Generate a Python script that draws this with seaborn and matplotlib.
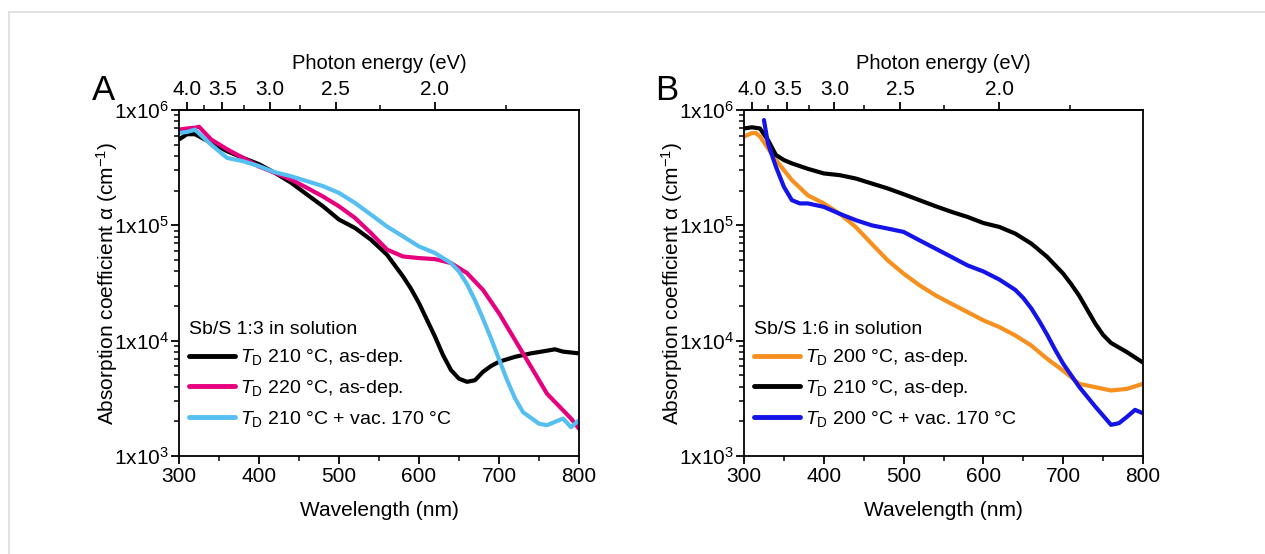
import numpy as np
import pandas as pd
import matplotlib
matplotlib.use("Agg")
import matplotlib.pyplot as plt
import matplotlib.ticker as mticker
from matplotlib.patches import Rectangle
import seaborn as sns

# ---------------- data ----------------
# Panel A : Sb/S 1:3 in solution   (log10 of alpha)
wl_a_black = [300, 310, 320, 340, 360, 380, 400, 420, 440, 460, 480, 500, 520, 540, 560, 580,
              590, 600, 610, 620, 630, 640, 650, 660, 670, 680, 690, 700, 720, 740, 760, 770,
              780, 800]
lg_a_black = [5.745, 5.79, 5.79, 5.716, 5.643, 5.585, 5.53, 5.455, 5.37, 5.267, 5.165, 5.05,
              4.977, 4.875, 4.745, 4.557, 4.45, 4.325, 4.18, 4.035, 3.875, 3.745, 3.67, 3.643,
              3.657, 3.73, 3.78, 3.817, 3.86, 3.89, 3.913, 3.925, 3.905, 3.89]

wl_a_pink = [300, 310, 320, 325, 340, 360, 380, 400, 420, 440, 460, 480, 500, 520, 540, 560,
             580, 600, 620, 640, 660, 680, 700, 720, 740, 760, 780, 790, 800]
lg_a_pink = [5.83, 5.84, 5.846, 5.855, 5.745, 5.66, 5.585, 5.51, 5.455, 5.397, 5.325, 5.25,
             5.165, 5.064, 4.933, 4.79, 4.73, 4.716, 4.707, 4.673, 4.586, 4.44, 4.238, 4.006,
             3.774, 3.54, 3.397, 3.325, 3.237]

wl_a_cyan = [300, 310, 320, 340, 360, 380, 400, 420, 440, 460, 480, 500, 520, 540, 560, 580,
             600, 620, 640, 650, 660, 670, 680, 690, 700, 710, 720, 730, 740, 750, 760, 780,
             790, 800]
lg_a_cyan = [5.80, 5.81, 5.83, 5.70, 5.585, 5.556, 5.513, 5.46, 5.426, 5.383, 5.34, 5.281,
             5.194, 5.093, 4.99, 4.904, 4.817, 4.76, 4.673, 4.60, 4.49, 4.35, 4.19, 4.02,
             3.84, 3.66, 3.50, 3.38, 3.33, 3.28, 3.267, 3.325, 3.25, 3.31]

# Panel B : Sb/S 1:6 in solution
wl_b_orange = [300, 310, 315, 320, 340, 360, 380, 400, 420, 440, 460, 480, 500, 520, 540, 560,
               580, 600, 620, 640, 660, 680, 700, 720, 740, 760, 780, 800]
lg_b_orange = [5.77, 5.80, 5.80, 5.77, 5.566, 5.392, 5.26, 5.19, 5.10, 4.986, 4.84, 4.697,
               4.581, 4.48, 4.393, 4.32, 4.248, 4.176, 4.118, 4.045, 3.958, 3.842, 3.74,
               3.626, 3.597, 3.568, 3.582, 3.626]

wl_b_black = [300, 310, 320, 330, 340, 350, 360, 380, 400, 420, 440, 460, 480, 500, 520, 540,
              560, 580, 600, 620, 640, 660, 680, 700, 710, 720, 730, 740, 750, 760, 780, 800]
lg_b_black = [5.84, 5.85, 5.84, 5.74, 5.61, 5.566, 5.537, 5.49, 5.45, 5.435, 5.406, 5.363,
              5.32, 5.27, 5.218, 5.166, 5.117, 5.073, 5.02, 4.986, 4.928, 4.842, 4.726, 4.581,
              4.49, 4.39, 4.27, 4.15, 4.05, 3.98, 3.90, 3.81]

wl_b_blue = [325, 330, 340, 350, 360, 370, 380, 400, 420, 440, 460, 480, 500, 520, 540, 560,
             580, 600, 620, 640, 650, 660, 670, 680, 690, 700, 710, 720, 740, 760, 770, 780,
             790, 800]
lg_b_blue = [5.913, 5.71, 5.508, 5.334, 5.218, 5.19, 5.19, 5.16, 5.10, 5.045, 5.00, 4.972,
             4.943, 4.87, 4.798, 4.726, 4.653, 4.60, 4.53, 4.44, 4.37, 4.28, 4.17, 4.05,
             3.92, 3.80, 3.70, 3.60, 3.43, 3.27, 3.285, 3.34, 3.40, 3.37]

labels_a = [r"$\mathit{T}_{\mathrm{D}}$ 210 °C, as-dep.",
            r"$\mathit{T}_{\mathrm{D}}$ 220 °C, as-dep.",
            r"$\mathit{T}_{\mathrm{D}}$ 210 °C + vac. 170 °C"]
labels_b = [r"$\mathit{T}_{\mathrm{D}}$ 200 °C, as-dep.",
            r"$\mathit{T}_{\mathrm{D}}$ 210 °C, as-dep.",
            r"$\mathit{T}_{\mathrm{D}}$ 200 °C + vac. 170 °C"]
title_a = "Sb/S 1:3 in solution"
title_b = "Sb/S 1:6 in solution"
energy_ticks = [4.0, 3.5, 3.0, 2.5, 2.0]
energy_minor = [3.75, 3.25, 2.75, 2.25, 1.75]
wl_ticks = [300, 400, 500, 600, 700, 800]

# ---------------- style ----------------
sns.set_style("ticks")
plt.rcParams["font.family"] = ["Liberation Sans", "DejaVu Sans"]
plt.rcParams["mathtext.fontset"] = "custom"
plt.rcParams["mathtext.rm"] = "Liberation Sans"
plt.rcParams["mathtext.it"] = "Liberation Sans:italic"
plt.rcParams["mathtext.bf"] = "Liberation Sans:bold"
for k in ["text.color", "axes.labelcolor", "xtick.color", "ytick.color", "axes.edgecolor"]:
    plt.rcParams[k] = "black"
plt.rcParams["axes.linewidth"] = 1.3

FS = 15
LFS = 14
LW = 3.0

fig = plt.figure(figsize=(12.65, 5.54), dpi=100)
fig.patches.append(Rectangle((9 / 1265, -0.1), 1.2, 0.1 + 1 - 12 / 554,
                             transform=fig.transFigure, fill=False,
                             edgecolor="#dcdcdc", linewidth=1.2, zorder=-5))

ax_a = fig.add_axes([179 / 1265, 1 - 456 / 554, 400 / 1265, 346 / 554])
ax_b = fig.add_axes([744 / 1265, 1 - 456 / 554, 399 / 1265, 346 / 554])


def to_e(x):
    x = np.asarray(x, dtype=float)
    with np.errstate(divide="ignore"):
        return np.where(x != 0, 1240.0 / np.where(x != 0, x, 1), np.inf)


def draw(ax, series, labels, title, letter, letter_x):
    for (wl, lg, col), lab in zip(series, labels):
        df = pd.DataFrame({"wl": wl, "alpha": 10 ** np.asarray(lg)})
        sns.lineplot(data=df, x="wl", y="alpha", ax=ax, color=col, lw=LW,
                     label=lab, sort=True, estimator=None)
    ax.set_yscale("log")
    ax.set_xlim(300, 800)
    ax.set_ylim(1e3, 1e6)
    ax.set_xticks(wl_ticks)
    ax.xaxis.set_minor_locator(mticker.FixedLocator([350, 450, 550, 650, 750]))
    ax.yaxis.set_major_locator(mticker.FixedLocator([1e3, 1e4, 1e5, 1e6]))
    ax.yaxis.set_major_formatter(mticker.FuncFormatter(
        lambda v, p: r"1x10$^{%d}$" % int(round(np.log10(v)))))
    ax.yaxis.set_minor_locator(mticker.LogLocator(base=10, subs=np.arange(2, 10), numticks=20))
    ax.yaxis.set_minor_formatter(mticker.NullFormatter())
    ax.tick_params(which="major", direction="out", length=6, width=1.3,
                   labelsize=FS, colors="black", pad=2)
    ax.tick_params(axis="y", which="major", pad=1)
    ax.tick_params(which="minor", direction="out", length=3.5, width=1.1)
    ax.set_xlabel("Wavelength (nm)", fontsize=FS, labelpad=11)
    ax.set_ylabel(r"Absorption coefficient α (cm$^{-1}$)", fontsize=FS, labelpad=-4)
    for s in ax.spines.values():
        s.set_visible(True)
        s.set_color("black")
        s.set_linewidth(1.3)

    sec = ax.secondary_xaxis("top", functions=(to_e, to_e))
    sec.set_xticks(energy_ticks)
    sec.set_xticklabels([f"{e:.1f}" for e in energy_ticks])
    sec.xaxis.set_minor_locator(mticker.FixedLocator(energy_minor))
    sec.tick_params(which="major", direction="out", length=6, width=1.3,
                    labelsize=FS, pad=2)
    sec.tick_params(which="minor", direction="out", length=3.5, width=1.1)
    sec.set_xlabel("Photon energy (eV)", fontsize=FS - 0.5, labelpad=8)

    leg = ax.legend(title=title, loc="lower left", bbox_to_anchor=(-0.005, 0.045),
                    frameon=False, fontsize=LFS, title_fontsize=LFS, alignment="left",
                    handlelength=2.4, handletextpad=0.25, labelspacing=0.5,
                    borderaxespad=0.2)
    for h in leg.get_lines():
        h.set_linewidth(LW + 0.5)

    fig.text(letter_x, 1 - 100 / 554, letter, fontsize=25, ha="left", va="baseline")


draw(ax_a, [(wl_a_black, lg_a_black, "black"),
            (wl_a_pink, lg_a_pink, "#E6007E"),
            (wl_a_cyan, lg_a_cyan, "#55BFF2")],
     labels_a, title_a, "A", 92 / 1265)
draw(ax_b, [(wl_b_orange, lg_b_orange, "#F7901E"),
            (wl_b_black, lg_b_black, "black"),
            (wl_b_blue, lg_b_blue, "#1414E8")],
     labels_b, title_b, "B", 655 / 1265)

fig.savefig("out.png", dpi=100)
